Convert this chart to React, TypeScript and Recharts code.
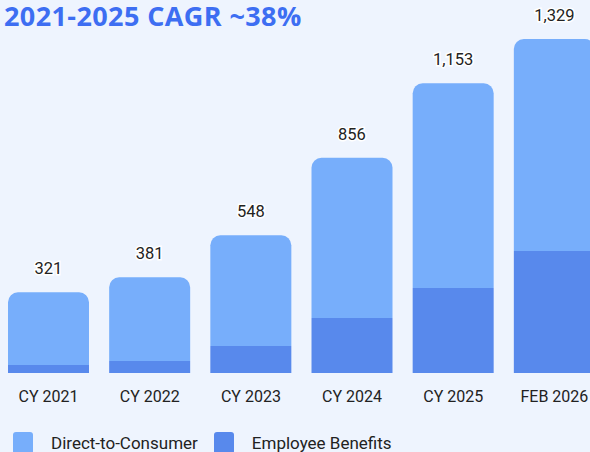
import { BarChart, Bar, XAxis, YAxis, LabelList } from "recharts";

const categories = ["CY 2021", "CY 2022", "CY 2023", "CY 2024", "CY 2025", "FEB 2026"];
const totals = [321, 381, 548, 856, 1153, 1329];
const employeeBenefits = [32, 48, 107, 219, 338, 485];
const directToConsumer = totals.map((t, i) => t - employeeBenefits[i]);

const series = [
  { key: "eb", name: "Employee Benefits", color: "#5889EC" },
  { key: "dtc", name: "Direct-to-Consumer", color: "#77AEFB" },
];
const legendOrder = ["dtc", "eb"];

const data = categories.map((c, i) => ({
  name: c,
  eb: employeeBenefits[i],
  dtc: directToConsumer[i],
  total: totals[i],
}));

const font = "Roboto, 'Noto Sans', sans-serif";

export default function App() {
  return (
    <div
      style={{
        position: "absolute",
        left: 0,
        top: 0,
        width: 590,
        height: 452,
        overflow: "hidden",
        background: "#EEF4FE",
        fontFamily: font,
      }}
    >
      <div
        style={{
          position: "absolute",
          left: 4,
          top: 0,
          fontFamily: "'Open Sans', sans-serif",
          fontWeight: 700,
          fontSize: 27,
          letterSpacing: 0.4,
          color: "#3D6EF2",
          lineHeight: "32px",
          whiteSpace: "nowrap",
        }}
      >
        2021-2025 CAGR ~38%
      </div>
      <div style={{ position: "absolute", left: -2, top: 0 }}>
        <BarChart
          width={607}
          height={452}
          data={data}
          margin={{ top: 39, right: 0, bottom: 49, left: 0 }}
        >
          <XAxis
            dataKey="name"
            axisLine={false}
            tickLine={false}
            height={30}
            tickMargin={12}
            tick={{ fontSize: 16, fill: "#222", fontFamily: font }}
            interval={0}
          />
          <YAxis hide domain={[0, "dataMax"]} />
          <Bar dataKey="eb" stackId="a" fill="#5889EC" barSize={81} isAnimationActive={false} />
          <Bar
            dataKey="dtc"
            stackId="a"
            fill="#77AEFB"
            barSize={81}
            radius={[10, 10, 0, 0]}
            isAnimationActive={false}
          >
            <LabelList
              dataKey="total"
              position="top"
              offset={18}
              formatter={(v: any) => Number(v).toLocaleString("en-US")}
              style={{
                fontSize: 16.5,
                fill: "#222",
                fontFamily: font,
                stroke: "#fff",
                strokeWidth: 3,
                paintOrder: "stroke",
              }}
            />
          </Bar>
        </BarChart>
      </div>
      <div
        style={{
          position: "absolute",
          left: 13,
          top: 432,
          display: "flex",
          alignItems: "flex-start",
          fontSize: 17,
          color: "#222",
        }}
      >
        {legendOrder.map((k) => {
          const s = series.find((x) => x.key === k)!;
          return (
            <div key={k} style={{ display: "flex", alignItems: "flex-start", marginRight: 16 }}>
              <div
                style={{ width: 20, height: 22, background: s.color, borderRadius: 3, marginRight: 18 }}
              />
              <span style={{ lineHeight: "22px", marginTop: 0 }}>{s.name}</span>
            </div>
          );
        })}
      </div>
    </div>
  );
}
